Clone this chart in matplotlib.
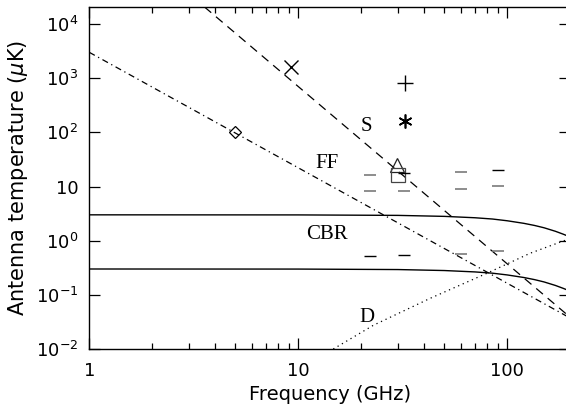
import numpy as np
import matplotlib
matplotlib.use('Agg')
import matplotlib.pyplot as plt
from matplotlib.ticker import FixedLocator, NullFormatter, NullLocator

plt.rcParams['mathtext.fontset'] = 'dejavusans'

# CBR curves (antenna temperature, two amplitudes)
cbr_freq = [1, 10, 30, 50, 70, 85, 100, 120, 135, 150, 170, 185, 200]
cbr_hi = [3.0, 2.99, 2.93, 2.81, 2.65, 2.51, 2.33, 2.09, 1.91, 1.73, 1.49, 1.32, 1.17]
cbr_lo = [0.30, 0.299, 0.293, 0.281, 0.265, 0.251, 0.233, 0.209, 0.191, 0.173, 0.149, 0.132, 0.117]

# power-law foregrounds: two points read on each line
s_pts = [(4.8, 7740), (61.6, 1.82)]
ff_pts = [(1.0, 3000), (185, 0.044)]

# dust
d_freq = [14.7, 22.9, 42.7, 79.7, 128.5, 200]
d_temp = [0.010, 0.0275, 0.086, 0.249, 0.585, 1.1]

# measurements
x_pt = (9.2, 1600)
diamond_pt = (5.0, 100)
plus_pt = (32.4, 820)
star_pt = (32.4, 165)
tri_pt = (29.8, 25)
sq_pt = (30.0, 16.1)

# short horizontal bars (limits)
bar_freq_gray = [22, 22, 32, 60, 60, 90, 60, 90]
bar_temp_gray = [16.5, 8.1, 8.1, 18.2, 9.0, 10.3, 0.567, 0.653]
bar_freq_black = [32, 90, 22, 32]
bar_temp_black = [17.7, 19.8, 0.52, 0.536]

labels = [('S', 21.2, 126), ('FF', 13.7, 26.3), ('CBR', 13.7, 1.28), ('D', 21.2, 0.038)]

fig = plt.figure(figsize=(5.66, 4.08), dpi=100)
ax = fig.add_axes([0.1578, 0.1446, 0.8496, 0.8382])
ax.set_xscale('log')
ax.set_yscale('log')

ax.plot(cbr_freq, cbr_hi, color='black', lw=1.0)
ax.plot(cbr_freq, cbr_lo, color='black', lw=1.0)
ax.axline(s_pts[0], s_pts[1], color='black', lw=0.9, ls=(0, (7, 5)))
ax.axline(ff_pts[0], ff_pts[1], color='black', lw=0.9, ls=(0, (5, 3, 1, 3)))
ax.plot(d_freq, d_temp, color='black', lw=0.9, ls=(0, (1, 3)))

ax.plot(*x_pt, marker='x', color='black', ms=10, mew=1.0)
ax.plot(*diamond_pt, marker='D', mfc='none', mec='black', ms=6.5, mew=0.9)
ax.plot(*plus_pt, marker='+', color='black', ms=11, mew=1.0)
ax.plot(*star_pt, marker=(6, 2, 0), color='black', ms=10, mew=1.2)
ax.plot(*tri_pt, marker='^', mfc='none', mec='#222222', ms=10, mew=0.9)
ax.plot(*sq_pt, marker='s', mfc='none', mec='#444444', ms=10, mew=0.9)

ax.plot(bar_freq_gray, bar_temp_gray, ls='none', marker='_', color='#7a7a7a',
        ms=9, mew=1.2)
ax.plot(bar_freq_black, bar_temp_black, ls='none', marker='_', color='black',
        ms=9, mew=1.0)

for txt, fx, ty in labels:
    ax.text(fx, ty, txt, family='Liberation Serif', fontsize=15,
            ha='center', va='center')

ax.set_xlim(1, 200)
ax.set_ylim(0.01, 2.06e4)

ax.xaxis.set_major_locator(FixedLocator([1, 10, 100]))
ax.set_xticklabels(['1', '10', '100'])
minors = [m * d for d in (1, 10, 100) for m in range(2, 10) if m * d < 200]
ax.xaxis.set_minor_locator(FixedLocator(minors))
ax.xaxis.set_minor_formatter(NullFormatter())

yt = [1e-2, 1e-1, 1, 10, 1e2, 1e3, 1e4]
ax.yaxis.set_major_locator(FixedLocator(yt))
ax.set_yticklabels(['$10^{-2}$', '$10^{-1}$', '$10^{0}$', '10',
                    '$10^{2}$', '$10^{3}$', '$10^{4}$'])
ax.yaxis.set_minor_locator(NullLocator())

ax.tick_params(which='both', direction='in', top=True, right=True,
               labelsize=13, width=0.9)
ax.tick_params(which='major', length=8)
ax.tick_params(which='minor', length=4)
ax.tick_params(axis='x', pad=9)
ax.tick_params(axis='y', pad=8)
for sp in ax.spines.values():
    sp.set_linewidth(1.0)

ax.set_xlabel('Frequency (GHz)', fontsize=14, labelpad=4)
ax.set_ylabel('Antenna temperature ($\\mu$K)', fontsize=15, labelpad=4)

fig.savefig('out.png', dpi=100)
